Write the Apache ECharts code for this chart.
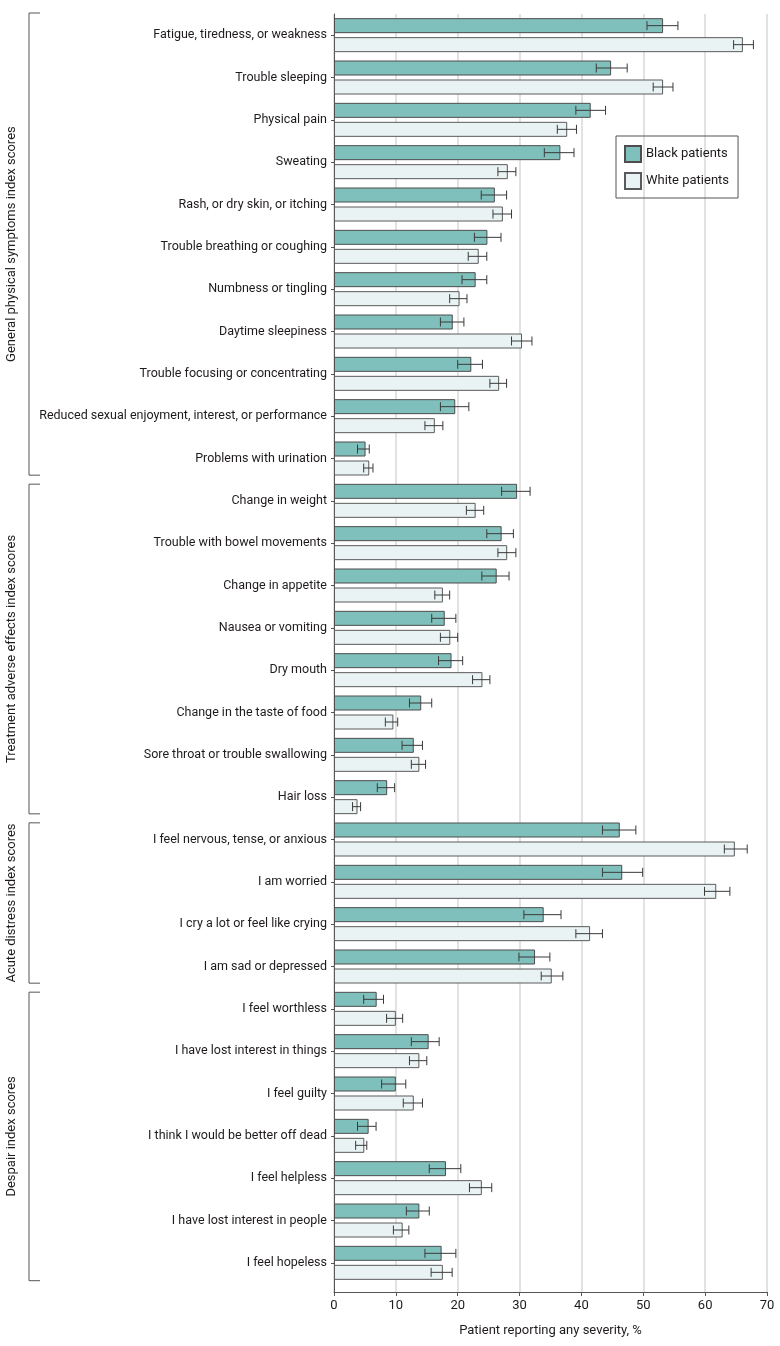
<!DOCTYPE html>
<html>
<head>
<meta charset="utf-8">
<script src="https://cdn.jsdelivr.net/npm/echarts@6/dist/echarts.min.js"></script>
<style>
html,body{margin:0;padding:0;background:#fff;}
#chart{width:780px;height:1346px;}
</style>
</head>
<body>
<div id="chart"></div>
<script>
const categories = [
  'Fatigue, tiredness, or weakness','Trouble sleeping','Physical pain','Sweating',
  'Rash, or dry skin, or itching','Trouble breathing or coughing','Numbness or tingling',
  'Daytime sleepiness','Trouble focusing or concentrating',
  'Reduced sexual enjoyment, interest, or performance','Problems with urination',
  'Change in weight','Trouble with bowel movements','Change in appetite','Nausea or vomiting',
  'Dry mouth','Change in the taste of food','Sore throat or trouble swallowing','Hair loss',
  'I feel nervous, tense, or anxious','I am worried','I cry a lot or feel like crying','I am sad or depressed',
  'I feel worthless','I have lost interest in things','I feel guilty','I think I would be better off dead',
  'I feel helpless','I have lost interest in people','I feel hopeless'
];
const seriesNames = ['Black patients', 'White patients'];
const blackValues = [53.2,44.8,41.5,36.6,26.0,24.8,22.9,19.2,22.2,19.6,5.1,29.6,27.1,26.3,17.9,19.0,14.1,12.9,8.6,46.2,46.6,33.9,32.5,6.9,15.3,10.0,5.6,18.1,13.8,17.4];
const blackLow    = [50.6,42.4,39.1,34.0,23.8,22.7,20.7,17.2,20.0,17.2,3.8,27.1,24.7,23.9,15.8,16.9,12.2,11.0,7.0,43.4,43.4,30.7,29.9,4.8,12.5,7.7,3.8,15.4,11.7,14.7];
const blackHigh   = [55.6,47.4,43.9,38.8,27.9,27.0,24.7,21.0,24.0,21.8,5.7,31.7,29.0,28.3,19.7,20.8,15.8,14.3,9.8,48.8,49.9,36.7,34.9,8.0,17.0,11.6,6.8,20.5,15.4,19.7];
const whiteValues = [66.1,53.2,37.7,28.1,27.3,23.4,20.3,30.4,26.7,16.3,5.7,22.9,28.0,17.6,18.8,24.0,9.6,13.8,3.8,64.8,61.8,41.4,35.2,10.0,13.8,12.9,4.9,23.9,11.1,17.6];
const whiteLow    = [64.6,51.6,36.1,26.5,25.7,21.7,18.7,28.7,25.2,14.7,4.8,21.4,26.5,16.3,17.2,22.4,8.3,12.5,3.0,63.1,59.9,39.1,33.5,8.5,12.2,11.2,3.5,21.9,9.6,15.7];
const whiteHigh   = [67.8,54.8,39.2,29.4,28.7,24.7,21.5,32.0,27.9,17.6,6.3,24.2,29.4,18.7,20.0,25.2,10.3,14.8,4.3,66.8,64.0,43.4,37.0,11.1,15.0,14.3,5.3,25.5,12.1,19.1];
const groupNames  = ['General physical symptoms index scores','Treatment adverse effects index scores','Acute distress index scores','Despair index scores'];
const groupSizes  = [11, 8, 4, 7];
const xTicks = {min: 0, max: 70, interval: 10};
const xAxisTitle = 'Patient reporting any severity, %';

const FONT = 'Roboto';
const TEXT = '#1f1b1c';
const FS = 12.5;
const BAR_W = 15, BAR_GAP_PX = 4;

const chart = echarts.init(document.getElementById('chart'), null, {renderer: 'canvas'});

function errData(lo, hi) { return lo.map((v, i) => [i, v, hi[i]]); }
function errSeries(name, lo, hi, sign) {
  return {
    type: 'custom', name: name + ' CI', xAxisIndex: 0, yAxisIndex: 0, z: 10,
    data: errData(lo, hi), encode: {x: [1, 2], y: 0}, silent: true,
    renderItem: function (params, api) {
      const idx = api.value(0);
      const p1 = api.coord([api.value(1), idx]);
      const p2 = api.coord([api.value(2), idx]);
      const off = sign * (BAR_W + BAR_GAP_PX) / 2;
      const y = p1[1] + off, h = 4.5;
      const st = {stroke: '#3a3a3a', lineWidth: 1};
      return {type: 'group', children: [
        {type: 'line', shape: {x1: p1[0], y1: y, x2: p2[0], y2: y}, style: st},
        {type: 'line', shape: {x1: p1[0], y1: y - h, x2: p1[0], y2: y + h}, style: st},
        {type: 'line', shape: {x1: p2[0], y1: y - h, x2: p2[0], y2: y + h}, style: st}
      ]};
    }
  };
}

const option = {
  animation: false,
  textStyle: {fontFamily: FONT},
  grid: [
    {left: 334, width: 433, top: 14, height: 1270},
    {left: 334, width: 433, top: 1284, height: 8}
  ],
  legend: {
    data: seriesNames, orient: 'vertical', left: 616, top: 136,
    borderColor: '#555', borderWidth: 1, padding: [9, 9, 8, 8], itemGap: 9,
    itemWidth: 16, itemHeight: 16, icon: 'rect',
    textStyle: {fontFamily: FONT, fontSize: 13, color: TEXT}
  },
  xAxis: [
    {gridIndex: 0, type: 'value', min: xTicks.min, max: xTicks.max, interval: xTicks.interval,
     axisLine: {show: false}, axisTick: {show: false}, axisLabel: {show: false},
     splitLine: {show: true, lineStyle: {color: '#d9d9d9', width: 1.5}}},
    {gridIndex: 1, type: 'value', min: xTicks.min, max: xTicks.max, interval: xTicks.interval,
     axisLine: {show: true, lineStyle: {color: '#555', width: 1}},
     axisTick: {show: true, length: 4, lineStyle: {color: '#555'}},
     axisLabel: {fontFamily: FONT, fontSize: 13, color: TEXT, margin: 7},
     splitLine: {show: true, lineStyle: {color: '#d9d9d9', width: 1.5}},
     name: xAxisTitle, nameLocation: 'middle', nameGap: 32,
     nameTextStyle: {fontFamily: FONT, fontSize: 13, color: TEXT}}
  ],
  yAxis: [
    {gridIndex: 0, type: 'category', inverse: true, data: categories,
     axisLine: {show: true, lineStyle: {color: '#555', width: 1}},
     axisTick: {show: true, length: 3, alignWithLabel: true, lineStyle: {color: '#555'}},
     axisLabel: {fontFamily: FONT, fontSize: FS, color: TEXT, margin: 7},
     splitLine: {show: false}},
    {gridIndex: 1, type: 'value', min: 0, max: 1,
     axisLine: {show: true, lineStyle: {color: '#555', width: 1}},
     axisTick: {show: false}, axisLabel: {show: false}, splitLine: {show: false}}
  ],
  series: [
    {type: 'bar', name: seriesNames[0], data: blackValues, xAxisIndex: 0, yAxisIndex: 0,
     barWidth: BAR_W, barGap: (BAR_GAP_PX / BAR_W * 100) + '%',
     itemStyle: {color: '#80c0bc', borderColor: '#4d4d4d', borderWidth: 1}},
    {type: 'bar', name: seriesNames[1], data: whiteValues, xAxisIndex: 0, yAxisIndex: 0,
     barWidth: BAR_W, barGap: (BAR_GAP_PX / BAR_W * 100) + '%',
     itemStyle: {color: '#eaf3f4', borderColor: '#5a5a5a', borderWidth: 1}},
    errSeries(seriesNames[0], blackLow, blackHigh, -1),
    errSeries(seriesNames[1], whiteLow, whiteHigh, 1)
  ]
};
chart.setOption(option);

// brackets and group labels derived from the category axis geometry
const c0 = chart.convertToPixel({yAxisIndex: 0}, 0);
const c1 = chart.convertToPixel({yAxisIndex: 0}, 1);
const band = c1 - c0;
const graphics = [];
let start = 0;
const BX = 29, BX2 = 40, INSET = 4.5;
groupSizes.forEach((n, gi) => {
  const top = c0 - band / 2 + start * band + (gi === 0 ? -1 : INSET);
  const bot = c0 - band / 2 + (start + n) * band - (gi === groupSizes.length - 1 ? 3.3 : INSET);
  graphics.push({type: 'polyline', shape: {points: [[BX2, top], [BX, top], [BX, bot], [BX2, bot]]},
    style: {stroke: '#555', lineWidth: 1, fill: null}});
  graphics.push({type: 'text', x: 12, y: (top + bot) / 2, rotation: Math.PI / 2,
    style: {text: groupNames[gi], fontFamily: FONT, fontSize: 13, fill: TEXT,
      textAlign: 'center', textVerticalAlign: 'middle'}});
  start += n;
});
chart.setOption({graphic: graphics});
</script>
</body>
</html>
